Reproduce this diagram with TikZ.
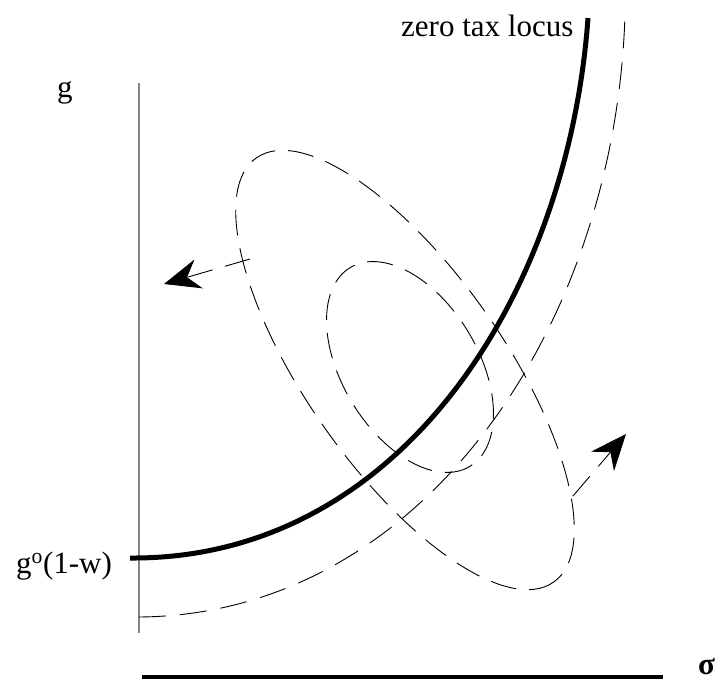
\documentclass[tikz,border=0pt]{standalone}
\usepackage{fontspec}
\setmainfont{Liberation Serif}
\usepackage{tikz}
\usetikzlibrary{arrows.meta}
\definecolor{vgray}{HTML}{858585}
\tikzset{
  lbl/.style={inner sep=0pt, font=\fontsize{31}{36}\selectfont},
  locus/.style={line width=5pt},
  shifted/.style={line width=0.9pt, dash pattern=on 27pt off 14pt},
  ring/.style={line width=0.9pt, dash pattern=on 26pt off 13pt},
  push/.style={line width=0.9pt, dash pattern=on 26pt off 13pt,
               -{Stealth[length=36pt, width=30pt, inset=12pt]}}
}

\begin{document}
\begin{tikzpicture}[x=1pt, y=-1pt]
  \useasboundingbox (0,0) rectangle (724,680);

  % axes
  \coordinate (ytop) at (139,83);
  \coordinate (ybot) at (139,633);
  \coordinate (xl) at (142,677);
  \coordinate (xr) at (663,677);
  \draw[vgray, line width=2pt] (ytop) -- (ybot);
  \draw[line width=3.5pt] (xl) -- (xr);
  \node[lbl, anchor=base west] (glab) at (57,97) {g};
  \node[lbl, anchor=base west] (siglab) at (698,674) {\textbf{σ}};
  \node[lbl, anchor=base west] (g0lab) at (16,573) {g\textsuperscript{o}(1-w)};

  % zero tax locus and its shifted copy
  \coordinate (lstart) at (130,558);
  \coordinate (lend) at (588,18);
  \draw[locus] (lstart) .. controls (400,560) and (568,295) .. (lend);
  \node[lbl, anchor=base west] (locuslab) at (401,36) {zero tax locus};
  \coordinate (sstart) at (139,617);
  \coordinate (send) at (625,15);
  \draw[shifted] (sstart) .. controls (420,615) and (615,330) .. (send);

  % preference ellipses
  \draw[ring, rotate around={-55:(405,370)}] (405,370) ellipse [x radius=259, y radius=99];
  \draw[ring, rotate around={-59:(410,367)}] (410,367) ellipse [x radius=116, y radius=68];

  % shifts
  \coordinate (lfrom) at (250,259);
  \coordinate (lto) at (164,284);
  \coordinate (rfrom) at (573,496);
  \coordinate (rto) at (626,434);
  \draw[push] (lfrom) -- (lto);
  \draw[push] (rfrom) -- (rto);
\end{tikzpicture}
\end{document}
